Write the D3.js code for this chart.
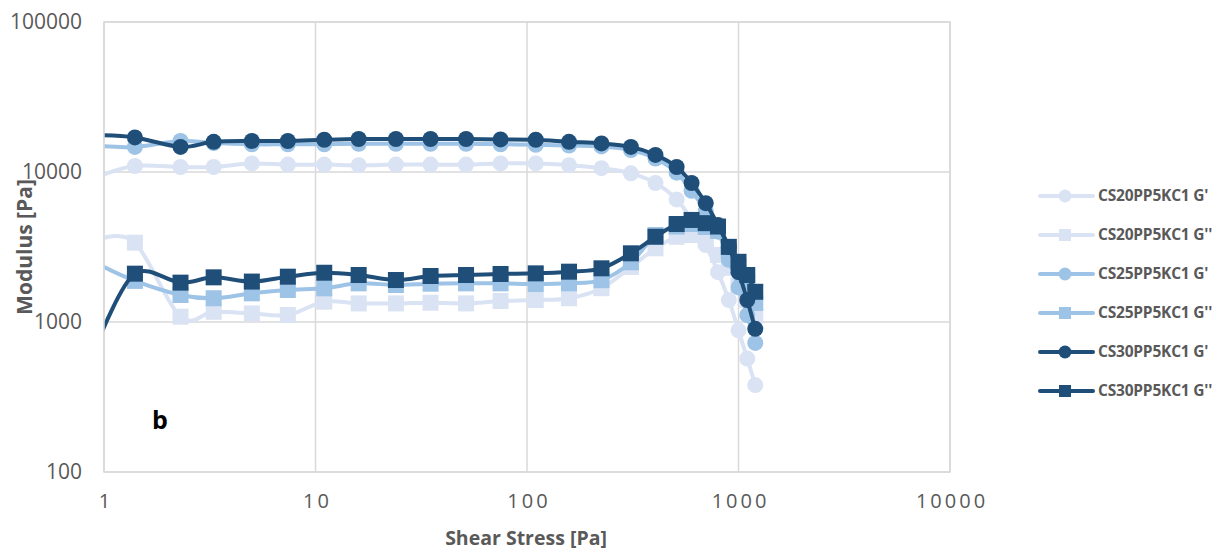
<!DOCTYPE html>
<html>
<head>
<meta charset="utf-8">
<script src="https://cdn.jsdelivr.net/npm/d3@7"></script>
<style>
  html, body { margin: 0; padding: 0; background: #fff; }
  svg { display: block; }
  text { font-family: "Open Sans", "DejaVu Sans", sans-serif; }
</style>
</head>
<body>
<svg id="chart" width="1220" height="552"></svg>
<script>
// ---- data ----
const stress = [0.95, 1.4, 2.3, 3.3, 5, 7.4, 11, 16, 24, 35, 51.5, 75, 110, 158, 225, 310, 405, 510, 600, 700, 800, 900, 1000, 1100, 1200];

const cs20G1 = [9370, 10960, 10800, 10800, 11400, 11200, 11200, 11100, 11200, 11200, 11200, 11400, 11400, 11100, 10600, 9800, 8450, 6560, 4800, 3260, 2150, 1400, 880, 570, 380];
const cs20G2 = [3540, 3380, 1085, 1170, 1140, 1113, 1366, 1330, 1330, 1345, 1330, 1380, 1400, 1440, 1680, 2330, 3100, 3700, 3800, 3500, 2800, 2300, 1750, 1400, 1110];
const cs25G1 = [14900, 14700, 16100, 15600, 15300, 15300, 15300, 15400, 15400, 15400, 15400, 15300, 15200, 15000, 14800, 14000, 12300, 9900, 7500, 5500, 4000, 2600, 1700, 1110, 725];
const cs25G2 = [2410, 1880, 1514, 1440, 1553, 1634, 1677, 1810, 1765, 1800, 1810, 1810, 1790, 1810, 1900, 2500, 3800, 4330, 4500, 4300, 4050, 3000, 2350, 1850, 1340];
const cs30G1 = [17600, 17000, 14700, 15900, 16100, 16100, 16400, 16600, 16600, 16600, 16600, 16500, 16400, 15900, 15500, 14700, 13000, 10800, 8450, 6200, 4430, 3160, 2150, 1400, 900];
const cs30G2 = [776, 2100, 1830, 1985, 1860, 2005, 2130, 2057, 1905, 2026, 2057, 2090, 2110, 2165, 2280, 2870, 3700, 4500, 4790, 4560, 4330, 3170, 2520, 2057, 1590];

const seriesNames = ["CS20PP5KC1 G'", "CS20PP5KC1 G''", "CS25PP5KC1 G'", "CS25PP5KC1 G''", "CS30PP5KC1 G'", "CS30PP5KC1 G''"];
const seriesValues = [cs20G1, cs20G2, cs25G1, cs25G2, cs30G1, cs30G2];
const seriesColors = ["#DAE3F3", "#DAE3F3", "#9DC3E6", "#9DC3E6", "#1F4E79", "#1F4E79"];
const seriesMarkers = ["circle", "square", "circle", "square", "circle", "square"];

const xTicks = [1, 10, 100, 1000, 10000];
const yTicks = [100, 1000, 10000, 100000];
const xTitle = "Shear Stress [Pa]";
const yTitle = "Modulus [Pa]";
const panelLabel = "b";

// ---- layout ----
const svg = d3.select("#chart");
const L = 104, R = 950, T = 22, B = 472;

const x = d3.scaleLog().domain([1, 10000]).range([L, R]);
const y = d3.scaleLog().domain([100, 100000]).range([B, T]);

const grid = "#D9D9D9";
const textCol = "#595959";

// gridlines
svg.append("g").selectAll("line.h").data(yTicks).join("line")
  .attr("x1", L).attr("x2", R)
  .attr("y1", d => y(d)).attr("y2", d => y(d))
  .attr("stroke", grid).attr("stroke-width", 1.5);
svg.append("g").selectAll("line.v").data(xTicks).join("line")
  .attr("x1", d => x(d)).attr("x2", d => x(d))
  .attr("y1", T).attr("y2", B)
  .attr("stroke", grid).attr("stroke-width", 1.5);

// axes (labels only)
const yAxis = d3.axisLeft(y).tickValues(yTicks).tickFormat(d3.format("d")).tickSize(0).tickPadding(22);
const gy = svg.append("g").attr("transform", `translate(${L},0)`).call(yAxis);
gy.select(".domain").remove();
gy.selectAll("text").attr("fill", textCol).style("font-size", "21px")
  .style("font-family", "'Open Sans', sans-serif");

const xAxis = d3.axisBottom(x).tickValues(xTicks).tickFormat(d3.format("d")).tickSize(0).tickPadding(22);
const gx = svg.append("g").attr("transform", `translate(0,${B})`).call(xAxis);
gx.select(".domain").remove();
gx.selectAll("text").attr("fill", textCol).style("font-size", "20px")
  .style("letter-spacing", "3px").attr("dx", "1.5")
  .style("font-family", "'Open Sans', sans-serif");

// titles
svg.append("text").attr("x", 526).attr("y", 545).attr("text-anchor", "middle")
  .attr("fill", textCol).style("font-weight", "bold").style("font-size", "19.5px")
  .text(xTitle);
svg.append("text").attr("transform", "translate(32,247) rotate(-90)").attr("text-anchor", "middle")
  .attr("fill", textCol).style("font-weight", "bold").style("font-size", "21px")
  .text(yTitle);

svg.append("text").attr("x", 152).attr("y", 429)
  .attr("fill", "#000").style("font-weight", "bold").style("font-size", "25px")
  .text(panelLabel);

// clip
svg.append("defs").append("clipPath").attr("id", "plotclip")
  .append("rect").attr("x", L).attr("y", T).attr("width", R - L).attr("height", B - T);

const line = d3.line()
  .x(d => x(d[0])).y(d => y(d[1]))
  .curve(d3.curveCardinal.tension(0));

const plot = svg.append("g").attr("clip-path", "url(#plotclip)");
const markerR = 8, sq = 16;

seriesValues.forEach((vals, i) => {
  const pts = stress.map((s, k) => [s, vals[k]]);
  const g = plot.append("g");
  g.append("path").datum(pts).attr("d", line)
    .attr("fill", "none").attr("stroke", seriesColors[i]).attr("stroke-width", 4)
    .attr("stroke-linejoin", "round").attr("stroke-linecap", "round");
  const vis = pts.filter(p => p[0] >= 1);
  if (seriesMarkers[i] === "circle") {
    g.selectAll("circle").data(vis).join("circle")
      .attr("cx", d => x(d[0])).attr("cy", d => y(d[1])).attr("r", markerR)
      .attr("fill", seriesColors[i]);
  } else {
    g.selectAll("rect").data(vis).join("rect")
      .attr("x", d => x(d[0]) - sq / 2).attr("y", d => y(d[1]) - sq / 2)
      .attr("width", sq).attr("height", sq)
      .attr("fill", seriesColors[i]);
  }
});

// plot border
svg.append("rect").attr("x", L).attr("y", T).attr("width", R - L).attr("height", B - T)
  .attr("fill", "none").attr("stroke", grid).attr("stroke-width", 1.5);

// legend
const legY0 = 196, legStep = 39;
const leg = svg.append("g");
seriesNames.forEach((name, i) => {
  const yy = legY0 + i * legStep;
  const g = leg.append("g");
  g.append("line").attr("x1", 1040).attr("x2", 1093).attr("y1", yy).attr("y2", yy)
    .attr("stroke", seriesColors[i]).attr("stroke-width", 4).attr("stroke-linecap", "round");
  if (seriesMarkers[i] === "circle") {
    g.append("circle").attr("cx", 1065).attr("cy", yy).attr("r", 6.5).attr("fill", seriesColors[i]);
  } else {
    g.append("rect").attr("x", 1059).attr("y", yy - 6).attr("width", 12).attr("height", 12).attr("fill", seriesColors[i]);
  }
  g.append("text").attr("x", 1098).attr("y", yy).attr("dy", "0.35em")
    .attr("fill", textCol).style("font-weight", "bold").style("font-size", "15.5px")
    .style("letter-spacing", "-0.2px")
    .text(name);
});
</script>
</body>
</html>
